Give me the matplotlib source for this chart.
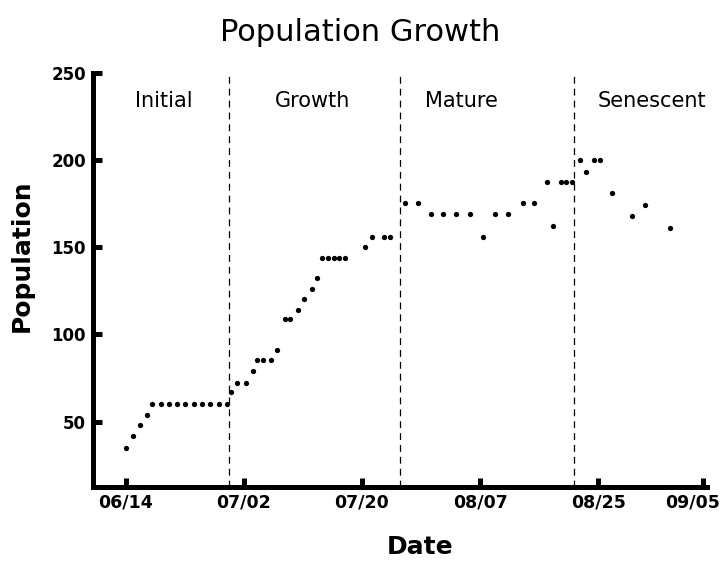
"""Population growth over the season, dotted counts split into four stages."""

import matplotlib

matplotlib.use("Agg")
import matplotlib.pyplot as plt
from matplotlib.transforms import ScaledTranslation

# day offsets from 06/14
DAYS = [
    0.1, 1.1, 2.2, 3.2, 4.0, 5.3, 6.6, 7.8, 9.1, 10.4, 11.6, 12.9, 14.2, 15.4,
    16.1, 17.0, 18.3, 19.4, 20.0, 20.9, 22.2, 23.1, 24.3, 25.1, 26.2, 27.2,
    28.4, 29.2, 29.9, 30.8, 31.7, 32.5, 33.4, 36.5, 37.5, 39.4, 40.3,
    42.6, 44.5, 46.5, 48.4, 50.4, 52.4, 54.4, 56.3, 58.3, 60.5, 62.2, 64.2,
    65.1, 66.3, 67.1, 68.0,
    69.3, 70.2, 71.3, 72.3, 74.1, 77.1, 79.1, 83.0,
]
POPULATION = [
    35, 42, 48, 54, 60, 60, 60, 60, 60, 60, 60, 60, 60, 60,
    67, 72, 72, 79, 85, 85, 85, 91, 109, 109, 114, 120,
    126, 132, 144, 144, 144, 144, 144, 150, 156, 156, 156,
    175, 175, 169, 169, 169, 169, 156, 169, 169, 175, 175, 187,
    162, 187, 187, 187,
    200, 193, 200, 200, 181, 168, 174, 161,
]

TICK_DAYS = [0, 18, 36, 54, 72, 88]
TICK_LABELS = ["06/14", "07/02", "07/20", "08/07", "08/25", "09/05"]
Y_TICKS = [50, 100, 150, 200, 250]

STAGE_BOUNDS = [15.8, 41.8, 68.4]
STAGES = ["Initial", "Growth", "Mature", "Senescent"]


def main() -> None:
    plt.rcParams["font.family"] = ["DejaVu Sans"]
    fig = plt.figure(figsize=(7.2, 5.62), dpi=100)
    ax = fig.add_axes([93 / 720, 1 - 486.5 / 562, 614 / 720, 414 / 562])

    ax.plot(DAYS, POPULATION, linestyle="none", marker="o",
            markersize=3.8, color="black", markeredgewidth=0)

    for b in STAGE_BOUNDS:
        ax.axvline(b, color="black", lw=0.9, linestyle=(0, (5.5, 4)))

    label_x = [5.8, 28.5, 51.1, 80.2]
    for x, name in zip(label_x, STAGES):
        ax.text(x, 233.7, name, ha="center", va="center", fontsize=15)

    ax.set_xlim(-5.0, 88.6)
    ax.set_ylim(12.8, 250)
    ax.set_xticks(TICK_DAYS)
    ax.set_xticklabels(TICK_LABELS, fontsize=12.5, fontweight="bold")
    ax.set_yticks(Y_TICKS)
    ax.set_yticklabels([str(v) for v in Y_TICKS], fontsize=12, fontweight="bold")
    ax.tick_params(direction="in", length=6.5, width=3.6, pad=5)

    # last date label sits left of its tick so it stays inside the figure
    last = ax.get_xticklabels()[-1]
    last.set_transform(last.get_transform()
                       + ScaledTranslation(-11 / 100, 0, fig.dpi_scale_trans))

    for side in ("top", "right"):
        ax.spines[side].set_visible(False)
    for side in ("left", "bottom"):
        ax.spines[side].set_linewidth(3.6)
        ax.spines[side].set_capstyle("projecting")

    fig.text(0.5, 1 - 41 / 562, "Population Growth", ha="center",
             va="baseline", fontsize=22)
    fig.text(22 / 720, 1 - 256 / 562, "Population", rotation=90, ha="center",
             va="center", fontsize=18, fontweight="bold")
    fig.text(420 / 720, 1 - 547 / 562, "Date", ha="center", va="center",
             fontsize=18, fontweight="bold")

    fig.savefig("out.png", dpi=100)
    plt.close(fig)


if __name__ == "__main__":
    main()
